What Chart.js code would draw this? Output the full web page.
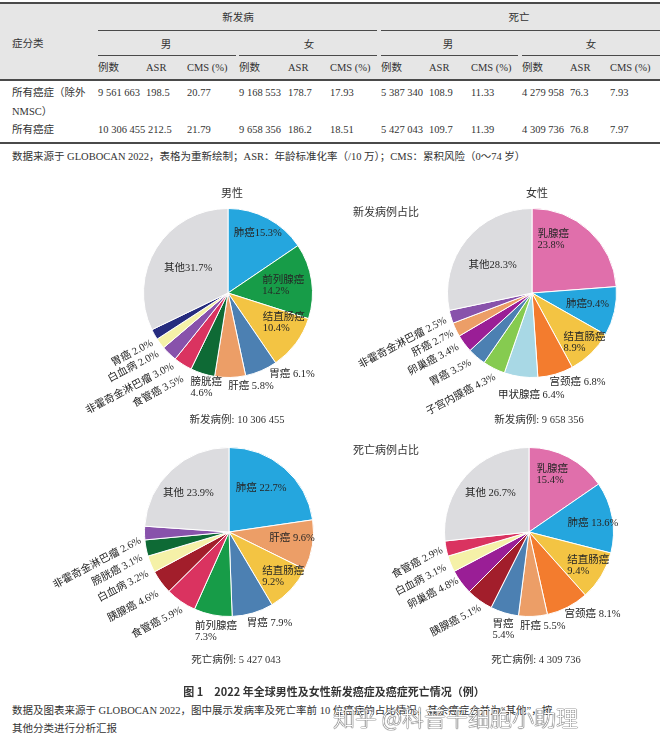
<!DOCTYPE html>
<html>
<head>
<meta charset="utf-8">
<script src="https://cdn.jsdelivr.net/npm/chart.js@4"></script>
<style>
body{margin:0;background:#fff;width:660px;height:739px;overflow:hidden;position:relative;
  font-family:"Liberation Serif","Noto Sans CJK SC",serif;color:#333}
.t{position:absolute;white-space:nowrap;font-size:10.5px;line-height:1;z-index:2}
.c{transform:translateX(-50%)}
.ln{position:absolute;background:#4a4a4a}
canvas{position:absolute;z-index:1}
#band{position:absolute;left:0;top:3px;width:660px;height:77px;background:#e6e6e6}
#wm{position:absolute;left:333px;top:700px;font-family:"Noto Sans CJK SC";font-size:22px;font-weight:300;color:#fff;
  text-shadow:0 0 1px #444,0 0 1px #444,0 0 1px #444;z-index:3;white-space:nowrap}
</style>
</head>
<body>
<div id="band"></div>
<div id="tbl"></div>

<div class="t c" style="left:232px;top:188px;font-size:11px">男性</div>
<div class="t c" style="left:537px;top:188px;font-size:11px">女性</div>
<div class="t c" style="left:386px;top:207px;font-size:11px">新发病例占比</div>
<div class="t c" style="left:237px;top:415px">新发病例: 10 306 455</div>
<div class="t c" style="left:539px;top:415px">新发病例: 9 658 356</div>
<div class="t c" style="left:386px;top:445px;font-size:11px">死亡病例占比</div>
<div class="t c" style="left:236px;top:655px">死亡病例: 5 427 043</div>
<div class="t c" style="left:536px;top:655px">死亡病例: 4 309 736</div>

<div class="t c" style="left:334px;top:686px;font-size:11px;font-weight:bold;font-family:'Noto Sans CJK SC'">图 1　2022 年全球男性及女性新发癌症及癌症死亡情况（例）</div>
<div class="t" style="left:12px;top:706px">数据及图表来源于 GLOBOCAN 2022，图中展示发病率及死亡率前 10 位癌症的占比情况，其余癌症合并为“其他”，按</div>
<div class="t" style="left:12px;top:724px">其他分类进行分析汇报</div>
<div id="wm">知乎 @科普干细胞小助理</div>

<canvas id="c1" width="330" height="250" style="left:0;top:180px"></canvas>
<canvas id="c2" width="330" height="250" style="left:330px;top:180px"></canvas>
<canvas id="c3" width="330" height="250" style="left:0;top:430px"></canvas>
<canvas id="c4" width="330" height="250" style="left:330px;top:430px"></canvas>

<script>
// table data
var headTop = ["新发病", "死亡"];
var headSex = ["男", "女", "男", "女"];
var headCols = ["例数", "ASR", "CMS (%)"];
var rowNames = [["所有癌症（除外", "NMSC）"], ["所有癌症"]];
var rowValues = [
  ["9 561 663", "198.5", "20.77", "9 168 553", "178.7", "17.93", "5 387 340", "108.9", "11.33", "4 279 958", "76.3", "7.93"],
  ["10 306 455", "212.5", "21.79", "9 658 356", "186.2", "18.51", "5 427 043", "109.7", "11.39", "4 309 736", "76.8", "7.97"],
];
var tableNote = "数据来源于 GLOBOCAN 2022，表格为重新绘制；ASR：年龄标准化率（/10 万）；CMS：累积风险（0～74 岁）";

// pie data
var maleIncLabels = ["肺癌", "前列腺癌", "结直肠癌", "胃癌", "肝癌", "膀胱癌", "食管癌", "非霍奇金淋巴瘤", "白血病", "胃癌", "其他"];
var maleIncValues = [15.3, 14.2, 10.4, 6.1, 5.8, 4.6, 3.5, 3.0, 2.0, 2.0, 31.7];
var femaleIncLabels = ["乳腺癌", "肺癌", "结直肠癌", "宫颈癌", "甲状腺癌", "子宫内膜癌", "胃癌", "卵巢癌", "肝癌", "非霍奇金淋巴瘤", "其他"];
var femaleIncValues = [23.8, 9.4, 8.9, 6.8, 6.4, 4.3, 3.5, 3.4, 2.7, 2.5, 28.3];
var maleDeathLabels = ["肺癌", "肝癌", "结直肠癌", "胃癌", "前列腺癌", "食管癌", "胰腺癌", "白血病", "膀胱癌", "非霍奇金淋巴瘤", "其他"];
var maleDeathValues = [22.7, 9.6, 9.2, 7.9, 7.3, 5.9, 4.6, 3.2, 3.1, 2.6, 23.9];
var femaleDeathLabels = ["乳腺癌", "肺癌", "结直肠癌", "宫颈癌", "肝癌", "胃癌", "胰腺癌", "卵巢癌", "白血病", "食管癌", "其他"];
var femaleDeathValues = [15.4, 13.6, 9.4, 8.1, 5.5, 5.4, 5.1, 4.8, 3.1, 2.9, 26.7];

var colorOf = {
  "肺癌": "#25a6de", "前列腺癌": "#179c48", "结直肠癌": "#f3c443", "胃癌": "#4c80b2",
  "肝癌": "#ec9e67", "膀胱癌": "#0e6a35", "食管癌": "#da3360", "非霍奇金淋巴瘤": "#8852ab",
  "白血病": "#f5f1a8", "其他": "#dcdcdf", "乳腺癌": "#e06fab", "宫颈癌": "#f37c2e",
  "甲状腺癌": "#a8d8e5", "子宫内膜癌": "#86cb50", "卵巢癌": "#9a1e96", "胰腺癌": "#a21e2b"
};

// ---- table ----
var tbl = document.getElementById("tbl");
function put(txt, x, y, center, extra) {
  var d = document.createElement("div");
  d.className = "t" + (center ? " c" : "");
  d.style.left = x + "px";
  d.style.top = (y - 5) + "px";
  if (extra) d.style.cssText += extra;
  d.textContent = txt;
  tbl.appendChild(d);
}
function line(x1, x2, y, h) {
  var d = document.createElement("div");
  d.className = "ln";
  d.style.cssText = "left:" + x1 + "px;width:" + (x2 - x1) + "px;top:" + y + "px;height:" + h + "px";
  tbl.appendChild(d);
}
var colX = [98, 146, 187, 239, 288, 330, 381, 429, 471, 522, 570, 610];
line(0, 660, 2, 2);
put(headTop[0], 238, 18, true);
put(headTop[1], 519, 18, true);
line(98, 377, 30, 1);
line(381, 660, 30, 1);
put("症分类", 12, 44, false);
[166, 309, 448, 591].forEach(function (x, i) { put(headSex[i], x, 45, true); });
line(98, 236, 55, 1); line(239, 377, 55, 1); line(381, 518, 55, 1); line(522, 660, 55, 1);
colX.forEach(function (x, i) { put(headCols[i % 3], x, 68, false); });
line(0, 660, 79, 1.5);
rowNames[0].forEach(function (s, k) { put(s, 12, 93 + k * 19, false); });
put(rowNames[1][0], 12, 130, false);
rowValues.forEach(function (row, r) {
  row.forEach(function (v, i) { put(v, colX[i] + (r === 1 && i === 1 ? 2 : 0), r === 0 ? 93 : 130, false); });
});
line(0, 660, 142, 2);
put(tableNote, 12, 157, false);

// ---- pies ----
var labelFont = '10.5px "Liberation Serif", "Noto Sans CJK SC", serif';
var sliceLabels = {
  id: "sliceLabels",
  afterDatasetsDraw: function (chart) {
    var cfg = chart.options.plugins.sliceLabels;
    var ds = chart.data.datasets[0];
    var ctx = chart.ctx;
    ctx.save();
    ctx.font = labelFont;
    ctx.fillStyle = "#262626";
    ctx.textBaseline = "middle";
    chart.getDatasetMeta(0).data.forEach(function (arc, i) {
      var L = cfg.layout[i];
      var p = arc.getProps(["x", "y", "startAngle", "endAngle", "outerRadius"], true);
      var a = (p.startAngle + p.endAngle) / 2;
      var name = chart.data.labels[i];
      var val = ds.data[i].toFixed(1) + "%";
      var f = L.m === "in" ? 0.6 : 1;
      var x = p.x + f * p.outerRadius * Math.cos(a) + L.dx;
      var y = p.y + f * p.outerRadius * Math.sin(a) + L.dy;
      if (L.m === "rot") {
        ctx.save();
        ctx.translate(x, y);
        ctx.rotate(-28 * Math.PI / 180);
        ctx.textAlign = "right";
        ctx.fillText(name + " " + val, 0, 0);
        ctx.restore();
        return;
      }
      ctx.textAlign = L.al || "left";
      if (L.br) {
        ctx.fillText(name, x, y - 5.5);
        ctx.fillText(val, x, y + 5.5);
      } else {
        ctx.fillText(name + (L.m === "in" ? cfg.inGap : " ") + val, x, y);
      }
    });
    ctx.restore();
  }
};

function makePie(id, labels, values, box, layout, inGap) {
  var r = 85;
  var pad = {
    left: box.cx - r - box.l,
    right: box.l + 330 - (box.cx + r),
    top: box.cy - r - box.t,
    bottom: box.t + 250 - (box.cy + r)
  };
  return new Chart(document.getElementById(id).getContext("2d"), {
    type: "pie",
    data: {
      labels: labels,
      datasets: [{
        data: values,
        backgroundColor: labels.map(function (s) { return colorOf[s]; }),
        borderColor: "#ffffff",
        borderWidth: 1
      }]
    },
    options: {
      responsive: false,
      animation: false,
      layout: { padding: pad },
      plugins: {
        legend: { display: false },
        tooltip: { enabled: false },
        sliceLabels: { layout: layout, inGap: inGap }
      }
    },
    plugins: [sliceLabels]
  });
}

// male incidence: the 10th slice is navy in the picture
var maleIncChart = makePie("c1", maleIncLabels, maleIncValues, { l: 0, t: 180, cx: 228, cy: 293 }, [
  { m: "in", al: "center", dx: 6, dy: -15 },
  { m: "in", br: 1, dx: -16, dy: 0 },
  { m: "in", br: 1, dx: -6, dy: -1 },
  { m: "out", dx: 8, dy: 4 },
  { m: "out", dx: -2, dy: 9 },
  { m: "out", br: 1, dx: -12, dy: 14 },
  { m: "rot", dx: 0, dy: 14 },
  { m: "rot", dx: 4, dy: 12 },
  { m: "rot", dx: -2, dy: 10 },
  { m: "rot", dx: -2, dy: 8 },
  { m: "in", al: "center", dx: 3, dy: 2 }
], "");
maleIncChart.data.datasets[0].backgroundColor[9] = "#262c7e";
maleIncChart.update();

makePie("c2", femaleIncLabels, femaleIncValues, { l: 330, t: 180, cx: 532, cy: 293 }, [
  { m: "in", br: 1, dx: -29, dy: -16 },
  { m: "in", al: "center", dx: 6, dy: 0 },
  { m: "in", br: 1, dx: -4, dy: 14 },
  { m: "out", dx: -6, dy: 8 },
  { m: "out", dx: -23, dy: 18 },
  { m: "rot", dx: 1, dy: 8 },
  { m: "rot", dx: -6, dy: 5 },
  { m: "rot", dx: -6, dy: 3 },
  { m: "rot", dx: -3, dy: 3 },
  { m: "rot", dx: -5, dy: 3 },
  { m: "in", al: "center", dx: 0, dy: 4 }
], "");

makePie("c3", maleDeathLabels, maleDeathValues, { l: 0, t: 430, cx: 229, cy: 532 }, [
  { m: "in", al: "center", dx: -1, dy: -5 },
  { m: "in", al: "center", dx: 13, dy: -2 },
  { m: "in", br: 1, dx: -4, dy: 10 },
  { m: "out", dx: -6, dy: 10 },
  { m: "out", br: 1, dx: -18, dy: 17 },
  { m: "rot", dx: 1, dy: 8 },
  { m: "rot", dx: -3, dy: 11 },
  { m: "rot", dx: -3, dy: 9 },
  { m: "rot", dx: -4, dy: 9 },
  { m: "rot", dx: -4, dy: 7 },
  { m: "in", al: "center", dx: -6, dy: -2 }
], " ");

makePie("c4", femaleDeathLabels, femaleDeathValues, { l: 330, t: 430, cx: 529, cy: 532 }, [
  { m: "in", br: 1, dx: -16, dy: -12 },
  { m: "in", al: "center", dx: 14, dy: 0 },
  { m: "in", br: 1, dx: -5, dy: 7 },
  { m: "out", dx: -3, dy: 7 },
  { m: "out", dx: -13, dy: 10 },
  { m: "out", br: 1, dx: -12, dy: 17 },
  { m: "rot", dx: 1, dy: 7 },
  { m: "rot", dx: -3, dy: -2 },
  { m: "rot", dx: -5, dy: 3 },
  { m: "rot", dx: -4, dy: 1 },
  { m: "in", al: "center", dx: -1, dy: -5 }
], " ");
</script>
</body>
</html>
